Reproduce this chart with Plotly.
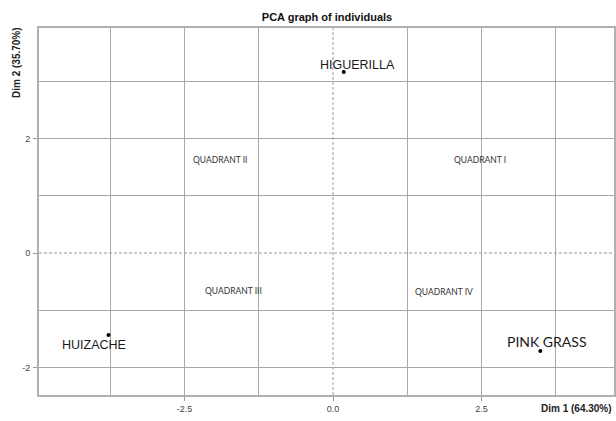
import plotly.graph_objects as go

# ---- data ----
individuals = ["HIGUERILLA", "HUIZACHE", "PINK GRASS"]
dim1 = [0.18, -3.78, 3.49]
dim2 = [3.16, -1.43, -1.71]

quadrant_labels = ["QUADRANT I", "QUADRANT II", "QUADRANT III", "QUADRANT IV"]
quadrant_x = [2.48, -1.90, -1.68, 1.86]
quadrant_y = [1.63, 1.63, -0.66, -0.68]

x_tickvals = [-2.5, 0.0, 2.5]
x_ticktext = ["-2.5", "0.0", "2.5"]
y_tickvals = [-2, 0, 2]
y_ticktext = ["-2", "0", "2"]
x_grid = [-3.75, -2.5, -1.25, 1.25, 2.5, 3.75]
y_grid = [-2, -1, 1, 2, 3]

title_text = "PCA graph of individuals"
x_title = "Dim 1 (64.30%)"
y_title = "Dim 2 (35.70%)"

W, H = 616, 421
GRID = "#a8a8a8"

fig = go.Figure()
fig.add_trace(go.Scatter(
    x=dim1, y=dim2, mode="markers",
    marker=dict(color="black", size=4),
    hoverinfo="text", text=individuals, showlegend=False,
))

# point labels (per-label offsets and fonts)
label_style = {
    "HIGUERILLA": dict(xshift=14, yshift=7, family="Liberation Sans, Arial", size=12.5),
    "HUIZACHE": dict(xshift=-15, yshift=-10, family="Liberation Sans, Arial", size=12.5),
    "PINK GRASS": dict(xshift=7, yshift=9, family="Lato, Open Sans", size=14),
}
for name, xv, yv in zip(individuals, dim1, dim2):
    s = label_style[name]
    fig.add_annotation(x=xv, y=yv, text=name, showarrow=False,
                       xshift=s["xshift"], yshift=s["yshift"],
                       font=dict(family=s["family"], size=s["size"], color="#1a1a1a"))

for t, xv, yv in zip(quadrant_labels, quadrant_x, quadrant_y):
    fig.add_annotation(x=xv, y=yv, text=t, showarrow=False,
                       font=dict(family="Lato, Open Sans", size=8.5, color="#333333"))

# dashed origin lines
fig.add_shape(type="line", xref="x", yref="paper", x0=0, x1=0, y0=0, y1=1,
              line=dict(color="#999999", width=1, dash="3px,2px"), layer="below")
fig.add_shape(type="line", xref="paper", yref="y", x0=0, x1=1, y0=0, y1=0,
              line=dict(color="#999999", width=1, dash="3px,2px"), layer="below")

# axis titles
fig.add_annotation(xref="paper", yref="paper", x=1.0, y=0, yshift=-6,
                   xanchor="right", yanchor="top", showarrow=False, text=x_title,
                   font=dict(family="Liberation Sans, Arial", size=10, color="#222", weight="bold"))
fig.add_annotation(xref="paper", yref="paper", x=0, xshift=-23, y=1.0, yshift=-35,
                   xanchor="center", yanchor="middle", textangle=-90, showarrow=False,
                   text=y_title,
                   font=dict(family="Liberation Sans, Arial", size=10, color="#222", weight="bold"))

fig.update_layout(
    width=W, height=H,
    margin=dict(l=39, r=0, t=28, b=26),
    paper_bgcolor="white", plot_bgcolor="white",
    title=dict(text=title_text, x=327 / W, xanchor="center", y=1 - 17 / H, yanchor="middle",
               font=dict(family="Liberation Sans, Arial", size=11, color="#111", weight="bold")),
    font=dict(family="Liberation Sans, Arial"),
)
fig.update_xaxes(
    range=[-4.95, 4.73], tickvals=x_tickvals, ticktext=x_ticktext,
    showgrid=False, zeroline=False,
    ticks="outside", ticklen=4, tickcolor="#999", tickfont=dict(size=9, color="#444"),
    showline=True, linecolor="#b0b0b0", linewidth=2, mirror=True,
    minor=dict(tickvals=x_grid, showgrid=True, gridcolor=GRID, gridwidth=1, ticklen=0),
)
fig.update_yaxes(
    range=[-2.48, 3.93], tickvals=y_tickvals, ticktext=y_ticktext,
    showgrid=False, zeroline=False,
    ticks="outside", ticklen=4, tickcolor="#999", tickfont=dict(size=9, color="#444"),
    ticklabelstandoff=1,
    showline=True, linecolor="#b0b0b0", linewidth=2, mirror=True,
    minor=dict(tickvals=y_grid, showgrid=True, gridcolor=GRID, gridwidth=1, ticklen=0),
)

fig.write_html("out.html", config={"displayModeBar": False},
               post_script="document.body.style.margin='0';document.body.style.overflow='hidden';")
